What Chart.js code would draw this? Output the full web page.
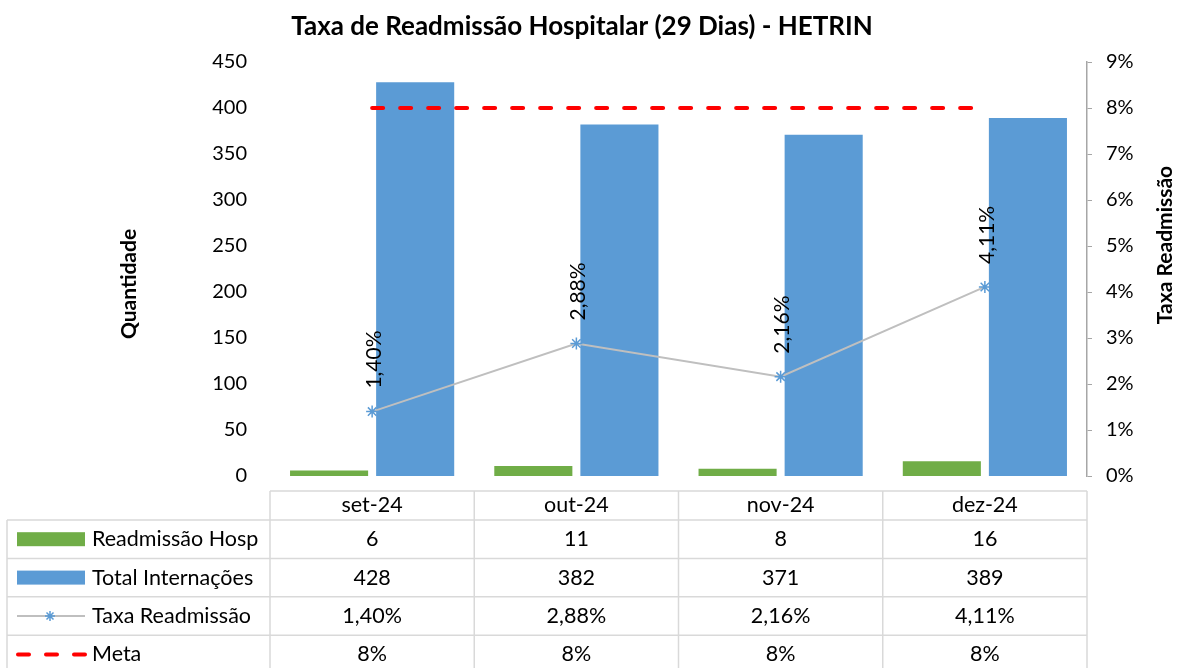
<!DOCTYPE html>
<html>
<head>
<meta charset="utf-8">
<script src="https://cdn.jsdelivr.net/npm/chart.js@4/dist/chart.umd.min.js"></script>
<style>
  html, body { margin: 0; padding: 0; background: #fff; }
  #wrap { width: 1179px; height: 668px; }
</style>
</head>
<body>
<div id="wrap"><canvas id="chart0"></canvas></div>
<script>
// dados do gráfico
const meses = ['set-24', 'out-24', 'nov-24', 'dez-24'];
const readmissao = [6, 11, 8, 16];
const internacoes = [428, 382, 371, 389];
const taxa = [1.40, 2.88, 2.16, 4.11];
const meta = [8, 8, 8, 8];

const FONTE = 'Lato, "Open Sans", sans-serif';
const VERDE = '#70AD47', AZUL = '#5B9BD5', CINZA = '#BFBFBF', VERMELHO = '#FF0000';

const fmtPct = v => v.toFixed(2).replace('.', ',') + '%';

// título e títulos dos eixos
const titulos = {
  id: 'titulos',
  afterDraw(chart) {
    const ctx = chart.ctx;
    ctx.save();
    ctx.fillStyle = '#000';
    ctx.textAlign = 'center';
    ctx.textBaseline = 'middle';
    ctx.font = 'bold 26px ' + FONTE;
    ctx.fillText('Taxa de Readmissão Hospitalar (29 Dias) - HETRIN', 582, 27);

    ctx.font = 'bold 21px ' + FONTE;
    ctx.translate(129, 284);
    ctx.rotate(-Math.PI / 2);
    ctx.fillText('Quantidade', 0, 0);
    ctx.restore();

    ctx.save();
    ctx.fillStyle = '#000';
    ctx.textAlign = 'center';
    ctx.textBaseline = 'middle';
    ctx.font = 'bold 21px ' + FONTE;
    ctx.translate(1165, 245);
    ctx.rotate(-Math.PI / 2);
    ctx.fillText('Taxa Readmissão', 0, 0);
    ctx.restore();
  }
};

// rótulos verticais da taxa
const rotulosTaxa = {
  id: 'rotulosTaxa',
  afterDatasetsDraw(chart) {
    const ctx = chart.ctx;
    const meta0 = chart.getDatasetMeta(0);
    ctx.save();
    ctx.fillStyle = '#000';
    ctx.font = '21px ' + FONTE;
    ctx.textAlign = 'left';
    ctx.textBaseline = 'middle';
    meta0.data.forEach((pt, i) => {
      ctx.save();
      ctx.translate(pt.x + 2, pt.y - 23);
      ctx.rotate(-Math.PI / 2);
      ctx.fillText(fmtPct(taxa[i]), 0, 0);
      ctx.restore();
    });
    ctx.restore();
  }
};

// tabela de dados abaixo do gráfico
const tabela = {
  id: 'tabela',
  afterDraw(chart) {
    const ctx = chart.ctx;
    const a = chart.chartArea;
    const n = meses.length;
    const w = (a.right - a.left) / n;
    const top = a.bottom + 15;
    const headH = 29;
    const rowH = 38.4;
    const esq = 7;
    const linhas = [
      { nome: 'Readmissão Hosp', vals: readmissao.map(String), chave: 'verde' },
      { nome: 'Total Internações', vals: internacoes.map(String), chave: 'azul' },
      { nome: 'Taxa Readmissão', vals: taxa.map(fmtPct), chave: 'linha' },
      { nome: 'Meta', vals: meta.map(v => v + '%'), chave: 'meta' }
    ];
    const fim = top + headH + rowH * linhas.length;

    ctx.save();
    ctx.strokeStyle = '#D9D9D9';
    ctx.lineWidth = 1.5;
    ctx.beginPath();
    ctx.moveTo(a.left, top); ctx.lineTo(a.right, top);
    for (let r = 0; r <= linhas.length; r++) {
      const y = top + headH + r * rowH;
      ctx.moveTo(esq, y); ctx.lineTo(a.right, y);
    }
    ctx.moveTo(esq, top + headH); ctx.lineTo(esq, fim);
    for (let c = 0; c <= n; c++) {
      const x = a.left + c * w;
      ctx.moveTo(x, top); ctx.lineTo(x, fim);
    }
    ctx.stroke();

    ctx.fillStyle = '#000';
    ctx.font = '21.5px ' + FONTE;
    ctx.textBaseline = 'middle';
    ctx.textAlign = 'center';
    meses.forEach((m, i) => ctx.fillText(m, a.left + (i + 0.5) * w, top + headH / 2));

    linhas.forEach((l, r) => {
      const yc = top + headH + (r + 0.5) * rowH;
      // chave da legenda
      if (l.chave === 'verde' || l.chave === 'azul') {
        ctx.fillStyle = l.chave === 'verde' ? VERDE : AZUL;
        ctx.fillRect(17, yc - 7, 68, 14);
      } else if (l.chave === 'linha') {
        ctx.strokeStyle = CINZA; ctx.lineWidth = 2;
        ctx.beginPath(); ctx.moveTo(17, yc); ctx.lineTo(85, yc); ctx.stroke();
        ctx.strokeStyle = AZUL; ctx.lineWidth = 1.5;
        ctx.beginPath();
        ctx.moveTo(45, yc); ctx.lineTo(55, yc);
        ctx.moveTo(50, yc - 5); ctx.lineTo(50, yc + 5);
        ctx.moveTo(46.5, yc - 3.5); ctx.lineTo(53.5, yc + 3.5);
        ctx.moveTo(46.5, yc + 3.5); ctx.lineTo(53.5, yc - 3.5);
        ctx.stroke();
      } else {
        ctx.strokeStyle = VERMELHO; ctx.lineWidth = 4;
        ctx.lineCap = 'round';
        ctx.setLineDash([11, 17]);
        ctx.beginPath(); ctx.moveTo(18, yc); ctx.lineTo(86, yc); ctx.stroke();
        ctx.setLineDash([]);
        ctx.lineCap = 'butt';
      }
      ctx.fillStyle = '#000';
      ctx.textAlign = 'left';
      ctx.fillText(l.nome, 92, yc);
      ctx.textAlign = 'center';
      l.vals.forEach((v, i) => ctx.fillText(v, a.left + (i + 0.5) * w, yc));
    });
    ctx.restore();
  }
};

const ctx = document.getElementById('chart0').getContext('2d');
window.myChart = new Chart(ctx, {
  data: {
    labels: meses,
    datasets: [
      {
        type: 'line',
        label: 'Taxa Readmissão',
        data: taxa,
        yAxisID: 'y1',
        borderColor: CINZA,
        borderWidth: 2,
        pointStyle: 'star',
        pointRadius: 6,
        pointBorderWidth: 1.5,
        pointBorderColor: AZUL,
        pointBackgroundColor: AZUL,
        order: 0
      },
      {
        type: 'line',
        label: 'Meta',
        data: meta,
        yAxisID: 'y1',
        borderColor: VERMELHO,
        borderWidth: 4,
        borderDash: [11, 17],
        borderCapStyle: 'round',
        pointRadius: 0,
        order: 0
      },
      {
        type: 'bar',
        label: 'Readmissão Hosp',
        data: readmissao,
        yAxisID: 'y',
        backgroundColor: VERDE,
        categoryPercentage: 0.843,
        barPercentage: 0.907,
        order: 1
      },
      {
        type: 'bar',
        label: 'Total Internações',
        data: internacoes,
        yAxisID: 'y',
        backgroundColor: AZUL,
        categoryPercentage: 0.843,
        barPercentage: 0.907,
        order: 1
      }
    ]
  },
  options: {
    responsive: true,
    maintainAspectRatio: false,
    animation: false,
    layout: { padding: { top: 62, bottom: 192, left: 0, right: 0 } },
    plugins: {
      legend: { display: false },
      tooltip: { enabled: false },
      title: { display: false }
    },
    scales: {
      x: {
        display: false,
        offset: true
      },
      y: {
        position: 'left',
        min: 0,
        max: 450,
        ticks: { stepSize: 50, padding: 23, color: '#000', font: { family: FONTE, size: 20 } },
        grid: { display: false, drawTicks: false },
        border: { display: false },
        afterFit(s) { s.width = 270; }
      },
      y1: {
        position: 'right',
        min: 0,
        max: 9,
        ticks: { stepSize: 1, padding: 14, color: '#000', font: { family: FONTE, size: 20 },
                 callback: v => v + '%' },
        grid: { drawOnChartArea: false, drawTicks: true, tickLength: 5, color: '#A6A6A6' },
        border: { display: true, color: '#A6A6A6', width: 1.5 },
        afterFit(s) { s.width = 92; }
      }
    }
  },
  plugins: [tabela, rotulosTaxa, titulos]
});
</script>
</body>
</html>
